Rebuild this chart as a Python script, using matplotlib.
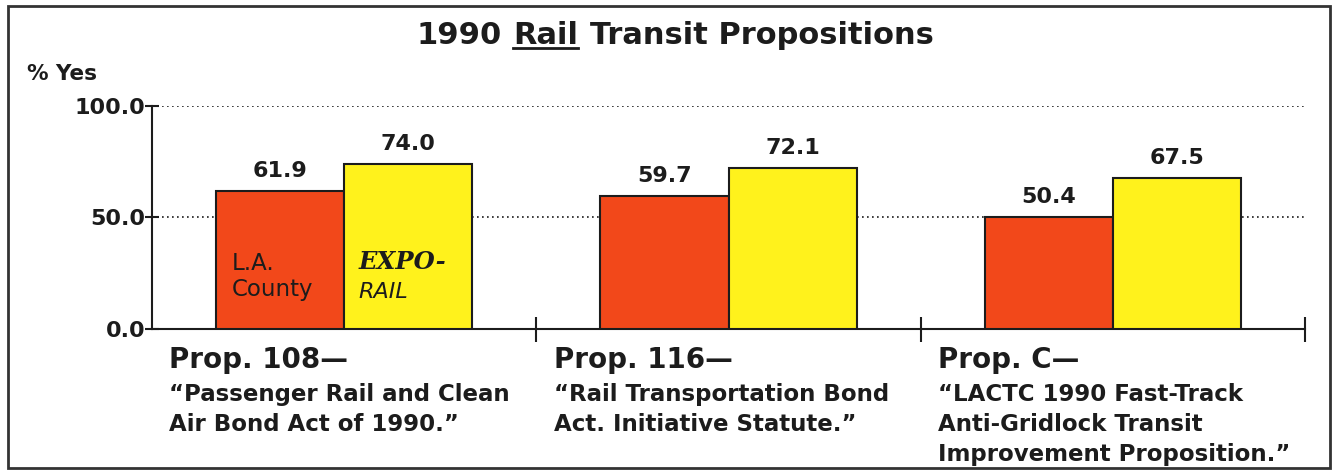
import matplotlib.pyplot as plt
from matplotlib.patches import Rectangle
from matplotlib.lines import Line2D
import numpy as np

plt.rcParams['font.family'] = ['DejaVu Sans']

props = ['Prop. 108—', 'Prop. 116—', 'Prop. C—']
descriptions = ['“Passenger Rail and Clean\nAir Bond Act of 1990.”',
                '“Rail Transportation Bond\nAct. Initiative Statute.”',
                '“LACTC 1990 Fast-Track\nAnti-Gridlock Transit\nImprovement Proposition.”']
la_county = [61.9, 59.7, 50.4]
expo_rail = [74.0, 72.1, 67.5]
yticks = [0.0, 50.0, 100.0]

ink = '#1c1c1c'
orange = '#F2481A'
yellow = '#FFF21C'

W, H = 1338, 474
fig = plt.figure(figsize=(W / 100, H / 100), dpi=100)
ax = fig.add_axes([152 / W, 1 - 329 / H, (1305 - 152) / W, (329 - 106) / H])

x = np.arange(len(props))
w = 1 / 3
ax.bar(x - w / 2, la_county, w, color=orange, edgecolor=ink, linewidth=1.5, zorder=3)
ax.bar(x + w / 2, expo_rail, w, color=yellow, edgecolor=ink, linewidth=1.5, zorder=3)

for i in range(len(props)):
    ax.annotate('%.1f' % la_county[i], (x[i] - w / 2, la_county[i]), xytext=(0, 14),
                textcoords='offset pixels', ha='center', va='baseline',
                fontsize=16, fontweight='bold', color=ink)
    ax.annotate('%.1f' % expo_rail[i], (x[i] + w / 2, expo_rail[i]), xytext=(0, 14),
                textcoords='offset pixels', ha='center', va='baseline',
                fontsize=16, fontweight='bold', color=ink)
    ax.annotate(props[i], xy=(x[i] - 0.455, 0), xycoords=('data', 'axes fraction'),
                xytext=(0, -39), textcoords='offset pixels', ha='left', va='baseline',
                fontsize=20, fontweight='bold', color=ink, annotation_clip=False)
    for k, line in enumerate(descriptions[i].split('\n')):
        ax.annotate(line, xy=(x[i] - 0.455, 0), xycoords=('data', 'axes fraction'),
                    xytext=(0, -72 - 30 * k), textcoords='offset pixels', ha='left',
                    va='baseline', fontsize=16.5, fontweight='bold', color=ink,
                    annotation_clip=False)

# labels inside first pair of bars
ax.text(-0.292, 26.5, 'L.A.', ha='left', va='baseline', fontsize=16.5, color=ink, zorder=4)
ax.text(-0.292, 15.0, 'County', ha='left', va='baseline', fontsize=16.5, color=ink, zorder=4)
ax.text(0.038, 26.9, 'EXPO-', ha='left', va='baseline', fontsize=17.5, fontweight='bold',
        fontstyle='italic', family='DejaVu Serif', color=ink, zorder=4)
ax.text(0.038, 14.0, 'RAIL', ha='left', va='baseline', fontsize=16, fontstyle='italic',
        color=ink, zorder=4)

ax.set_xlim(-0.5, 2.5)
ax.set_ylim(0, 100)
ax.set_yticks(yticks)
ax.set_yticklabels(['%.1f' % v for v in yticks], fontsize=16, fontweight='bold', color=ink)
ax.set_xticks([0.5, 1.5, 2.5])
ax.set_xticklabels([])
ax.tick_params(axis='x', direction='inout', length=18, width=1.5, color=ink)
ax.tick_params(axis='y', direction='inout', length=10, width=1.5, color=ink, pad=0)
ax.yaxis.grid(True, linestyle=(0, (1, 2)), color=ink, linewidth=1.2)
ax.set_axisbelow(True)
for s in ['top', 'right']:
    ax.spines[s].set_visible(False)
for s in ['left', 'bottom']:
    ax.spines[s].set_linewidth(1.5)
    ax.spines[s].set_color(ink)

fig.text(27 / W, 1 - 80 / H, '% Yes', fontsize=15.5, fontweight='bold', color=ink,
         va='baseline')

# title with underlined "Rail"
ty = 1 - 44 / H
t1 = fig.text(417 / W, ty, '1990', fontsize=22, fontweight='bold', color=ink, va='baseline')
t2 = ax.annotate('Rail', xy=(1, 0), xycoords=t1, xytext=(7.7, 0), textcoords='offset points',
                 fontsize=22, fontweight='bold', color=ink, va='bottom', annotation_clip=False)
t3 = ax.annotate('Transit Propositions', xy=(1, 0), xycoords=t2, xytext=(8.5, 0),
                 textcoords='offset points', fontsize=22, fontweight='bold', color=ink,
                 va='bottom', annotation_clip=False)

fig.canvas.draw()
bb = t2.get_window_extent()
fig.add_artist(Line2D([bb.x0 / W, bb.x1 / W], [(bb.y0 + 2) / H, (bb.y0 + 2) / H],
                      transform=fig.transFigure, color=ink, linewidth=2))

fig.add_artist(Rectangle((8 / W, 6 / H), (1330 - 8) / W, (468 - 6) / H,
                         transform=fig.transFigure, fill=False, edgecolor='#333333',
                         linewidth=2))

fig.savefig('out.png', dpi=100)
